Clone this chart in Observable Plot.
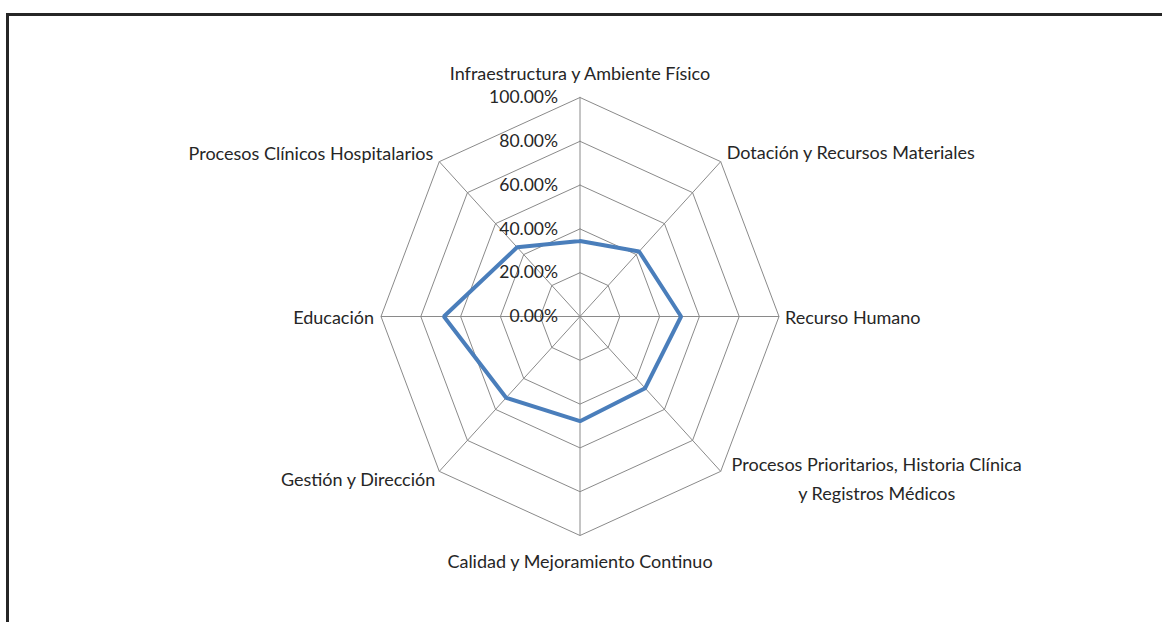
<!DOCTYPE html>
<html>
<head>
<meta charset="utf-8">
<script src="https://cdn.jsdelivr.net/npm/d3@7"></script>
<script src="https://cdn.jsdelivr.net/npm/@observablehq/plot@0.6"></script>
<style>
  html, body { margin: 0; padding: 0; background: #fff; }
  #wrap { position: relative; width: 1162px; height: 622px; overflow: hidden; background: #fff; }
  #frame { position: absolute; left: 6px; top: 13px; width: 1200px; height: 700px;
           border-top: 3px solid #262626; border-left: 3px solid #262626; box-sizing: border-box; }
  #chart { position: absolute; left: 0; top: 0; }
</style>
</head>
<body>
<div id="wrap"><div id="frame"></div><div id="chart"></div></div>
<script>
// ---- data ----
const categories = [
  "Infraestructura y Ambiente Físico",
  "Dotación y Recursos Materiales",
  "Recurso Humano",
  "Procesos Prioritarios, Historia Clínica\ny Registros Médicos",
  "Calidad y Mejoramiento Continuo",
  "Gestión y Dirección",
  "Educación",
  "Procesos Clínicos Hospitalarios"
];
const values = [0.345, 0.42, 0.508, 0.463, 0.478, 0.525, 0.684, 0.447];
const ringLevels = [0.2, 0.4, 0.6, 0.8, 1.0];
const tickValues = [0, 0.2, 0.4, 0.6, 0.8, 1.0];
const tickLabels = ["0.00%", "20.00%", "40.00%", "60.00%", "80.00%", "100.00%"];

// ---- polar helpers ----
const n = categories.length;
const ang = i => (i * 2 * Math.PI) / n;
const px = (i, r) => r * Math.sin(ang(i));
const py = (i, r) => r * Math.cos(ang(i));

const rings = ringLevels.flatMap(l =>
  d3.range(n + 1).map(k => ({ level: l, x: px(k % n, l), y: py(k % n, l) })));
const spokes = categories.map((c, i) => ({ x1: 0, y1: 0, x2: px(i, 1), y2: py(i, 1) }));
const series = d3.range(n + 1).map(k => ({ x: px(k % n, values[k % n]), y: py(k % n, values[k % n]) }));
const ticks = tickValues.map((v, i) => ({ x: 0, y: v, label: tickLabels[i] }));
const labelData = categories.map((c, i) => ({ x: px(i, 1), y: py(i, 1), label: c }));

// label placement styles per direction
const labelStyle = [
  { textAnchor: "middle", dx: 0, dy: -27 },
  { textAnchor: "start", dx: 6, dy: -12 },
  { textAnchor: "start", dx: 6, dy: -2 },
  { textAnchor: "middle", dx: 156, dy: 5 },
  { textAnchor: "middle", dx: 0, dy: 23 },
  { textAnchor: "end", dx: -4, dy: 5 },
  { textAnchor: "end", dx: -7, dy: -2 },
  { textAnchor: "end", dx: -6, dy: -11 }
];

const font = "Lato";
const fs = 18;
const cx = 579.5, cy = 316, rx = 199, ry = 219;

const chart = Plot.plot({
  width: 1162,
  height: 622,
  margin: 0,
  style: { background: "transparent", fontFamily: font },
  x: { domain: [-1, 1], range: [cx - rx, cx + rx], axis: null },
  y: { domain: [-1, 1], range: [cy + ry, cy - ry], axis: null },
  marks: [
    Plot.link(spokes, { x1: "x1", y1: "y1", x2: "x2", y2: "y2", stroke: "#8a8a8a", strokeWidth: 1 }),
    Plot.line(rings, { x: "x", y: "y", z: "level", stroke: "#8a8a8a", strokeWidth: 1, curve: "linear" }),
    Plot.line(series, { x: "x", y: "y", stroke: "#4a7ebb", strokeWidth: 4, strokeLinejoin: "miter", curve: "linear" }),
    Plot.text(ticks, { x: "x", y: "y", text: "label", textAnchor: "end", dx: -22, fontSize: 17.5, fill: "#262626", fontFamily: font }),
    ...labelData.map((d, i) => Plot.text([d], {
      x: "x", y: "y", text: "label", fontSize: fs, fill: "#262626", fontFamily: font,
      lineHeight: 1.6, ...labelStyle[i]
    }))
  ]
});
document.getElementById("chart").appendChild(chart);
</script>
</body>
</html>
